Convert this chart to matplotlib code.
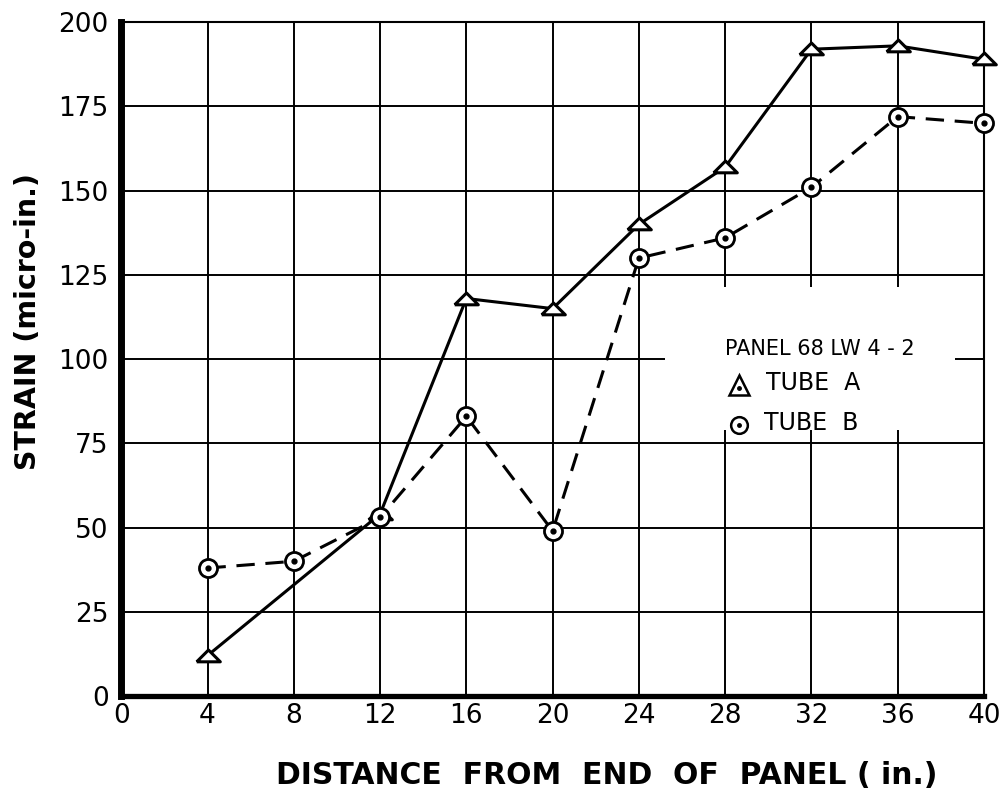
import matplotlib.pyplot as plt
from matplotlib.patches import Rectangle

# strain readings along the panel
distance_a = [4, 12, 16, 20, 24, 28, 32, 36, 40]
strain_a = [12, 54, 118, 115, 140, 157, 192, 193, 189]

distance_b = [4, 8, 12, 16, 20, 24, 28, 32, 36, 40]
strain_b = [38, 40, 53, 83, 49, 130, 136, 151, 172, 170]

x_ticks = list(range(0, 41, 4))
y_ticks = list(range(0, 201, 25))

# flat, wide triangle like the hand-drawn symbols
flat_tri = [(-1.0, -0.45), (1.0, -0.45), (0.0, 0.55), (-1.0, -0.45)]

fig = plt.figure(figsize=(10.02, 7.95), dpi=100)
ax = fig.add_axes([0.121, 0.1245, 0.861, 0.8475])

ax.set_xlim(0, 40)
ax.set_ylim(0, 200)
ax.set_xticks(x_ticks)
ax.set_yticks(y_ticks)
ax.set_xticklabels([str(v) for v in x_ticks], fontsize=19)
ax.set_yticklabels([str(v) for v in y_ticks], fontsize=19)
ax.tick_params(length=0)
ax.tick_params(axis='x', pad=5)
ax.tick_params(axis='y', pad=9)

ax.set_axisbelow(True)
ax.grid(True, color='black', linewidth=1.4)

ax.spines['left'].set_linewidth(5)
ax.spines['bottom'].set_linewidth(3.8)
ax.spines['top'].set_linewidth(1.5)
ax.spines['right'].set_linewidth(1.5)

# blank patch behind the key
ax.add_patch(Rectangle((25.2, 79), 13.45, 42.5, facecolor='white',
                       edgecolor='none', zorder=1))

ax.plot(distance_a, strain_a, color='black', linewidth=2.2, zorder=3)
ax.plot(distance_a, strain_a, linestyle='none', marker=flat_tri,
        markersize=17, markerfacecolor='white', markeredgecolor='black',
        markeredgewidth=2.2, zorder=4, clip_on=False)

ax.plot(distance_b, strain_b, color='black', linewidth=2.2,
        linestyle=(0, (6, 3.5)), zorder=3)
ax.plot(distance_b, strain_b, linestyle='none', marker='o', markersize=13,
        markerfacecolor='white', markeredgecolor='black',
        markeredgewidth=2.0, zorder=4, clip_on=False)
ax.plot(distance_b, strain_b, linestyle='none', marker='o', markersize=3.5,
        color='black', zorder=5, clip_on=False)

# key
ax.text(28.0, 103, 'PANEL 68 LW 4 - 2', fontsize=15, ha='left',
        va='center', zorder=6)
ax.plot([28.65], [92.4], linestyle='none', marker='^', markersize=14,
        markerfacecolor='white', markeredgecolor='black',
        markeredgewidth=1.8, zorder=6)
ax.plot([28.65], [91.5], linestyle='none', marker='o', markersize=2.5,
        color='black', zorder=7)
ax.text(29.9, 93, 'TUBE  A', fontsize=17, ha='left', va='center', zorder=6)
ax.plot([28.65], [80.5], linestyle='none', marker='o', markersize=12,
        markerfacecolor='white', markeredgecolor='black',
        markeredgewidth=1.8, zorder=6)
ax.plot([28.65], [80.5], linestyle='none', marker='o', markersize=2.5,
        color='black', zorder=7)
ax.text(29.8, 81, 'TUBE  B', fontsize=17, ha='left', va='center', zorder=6)

fig.text(0.606, 0.025, 'DISTANCE  FROM  END  OF  PANEL ( in.)',
         fontsize=21.5, fontweight='bold', ha='center', va='center')
fig.text(0.028, 0.596, 'STRAIN (micro-in.)', fontsize=20.5,
         fontweight='bold', rotation=90, ha='center', va='center')

fig.savefig('out.png', dpi=100)
